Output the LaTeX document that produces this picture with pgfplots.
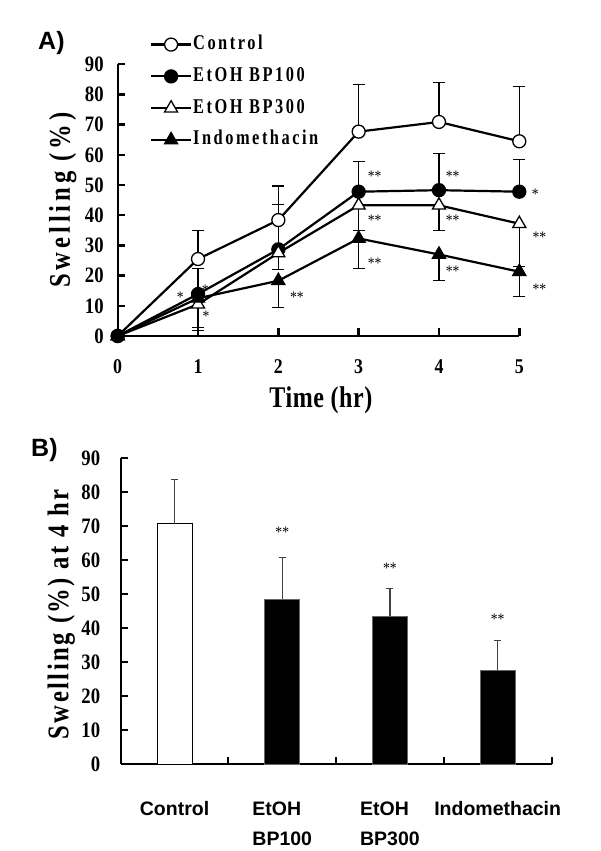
\documentclass[border=0pt]{standalone}
\usepackage{fontspec}
\usepackage{pgfplots}
\pgfplotsset{compat=1.18}
\setmainfont{Liberation Serif}
\newfontfamily\mincho[FakeStretch=0.85]{Liberation Serif}
\newfontfamily\minchoL[FakeStretch=0.78,LetterSpace=12]{Liberation Serif}
\newfontfamily\minchoLab[FakeStretch=0.82,LetterSpace=13]{Liberation Serif}
\newfontfamily\minchoLabB[FakeStretch=0.82,LetterSpace=8.5]{Liberation Serif}
\newfontfamily\minchoLabX[FakeStretch=0.8,LetterSpace=2]{Liberation Serif}
\newfontfamily\arial{Liberation Sans}

\pgfplotstableread{
x y e
0 0 0
1 25.5 9.4
2 38.4 11.3
3 67.7 15.5
4 70.9 13.1
5 64.5 18.1
}\control
\pgfplotstableread{
x y e
0 0 0
1 13.9 8.5
2 28.7 15.0
3 47.8 10.0
4 48.3 12.2
5 47.8 10.7
}\bpone
\pgfplotstableread{
x y e
0 0 0
1 10.5 7.6
2 27.5 5.4
3 43.3 8.4
4 43.3 8.5
5 37.2 14.3
}\bpthree
\pgfplotstableread{
x y e
0 0 0
1 12.5 10.7
2 18.3 8.9
3 32.3 9.9
4 27.0 8.7
5 21.3 8.3
}\indo

\begin{document}
\begin{tikzpicture}
\path[use as bounding box] (0pt,0pt) rectangle (600pt,851pt);
\begin{axis}[
  at={(117.7pt,515pt)}, anchor=south west, scale only axis,
  width=401.6pt, height=271.7pt,
  xmin=0, xmax=5, ymin=0, ymax=90,
  clip=false,
  axis lines=left, axis line style={-, line width=2.4pt},
  xtick={0,1,2,3,4,5}, ytick={0,10,...,90},
  tick align=inside, major tick length=7.5pt,
  tick style={line width=2.4pt, black},
  /pgf/number format/assume math mode=true,
  yticklabel style={font=\mincho\bfseries\fontsize{22}{22}\selectfont, xshift=-10.5pt},
  xticklabel style={font=\mincho\bfseries\fontsize{21}{22}\selectfont, yshift=-20.5pt},
  xlabel={Time (hr)},
  xlabel style={font=\minchoLabX\bfseries\fontsize{30}{32}\selectfont, at={(axis description cs:0.506,-0.265)}, anchor=base},
  ylabel={Swelling (\%)},
  ylabel style={font=\minchoLab\bfseries\fontsize{30}{32}\selectfont, at={(axis description cs:-0.1188,0.50)}, anchor=base},
  legend image code/.code={\draw[mark repeat=2,mark phase=2,#1] plot coordinates {(0pt,0pt) (20pt,0pt) (40pt,0pt)};},
  legend style={at={(axis description cs:0.0804,1.113)}, anchor=north west, draw=none, fill=none,
    inner sep=0pt, outer sep=0pt, row sep=9.8pt,
    font=\minchoL\bfseries\fontsize{21}{24}\selectfont,
    nodes={inner sep=1pt, text height=15pt, text depth=5pt}},
  legend cell align=left,
]
\addplot[black, line width=2.2pt, mark=*, mark size=6.5pt, mark options={solid, fill=white, line width=1.3pt},
  error bars/.cd, y dir=plus, y explicit, error bar style={line width=1.1pt, solid}, error mark options={rotate=90, line width=1.1pt, mark size=6pt}]
  table[x=x, y=y, y error=e] {\control};
\addlegendentry{Control}
\addplot[black, line width=2.2pt, mark=*, mark size=6.5pt, mark options={solid, fill=black, line width=1.3pt},
  error bars/.cd, y dir=plus, y explicit, error bar style={line width=1.1pt, solid}, error mark options={rotate=90, line width=1.1pt, mark size=6pt}]
  table[x=x, y=y, y error=e] {\bpone};
\addlegendentry{EtOH BP100}
\addplot[black, line width=2.2pt, mark=triangle*, mark size=7.5pt, mark options={solid, fill=white, line width=1.3pt},
  error bars/.cd, y dir=minus, y explicit, error bar style={line width=1.1pt, solid}, error mark options={rotate=90, line width=1.1pt, mark size=6pt}]
  table[x=x, y=y, y error=e] {\bpthree};
\addlegendentry{EtOH BP300}
\addplot[black, line width=2.2pt, mark=triangle*, mark size=7.5pt, mark options={solid, fill=black, line width=1.3pt},
  error bars/.cd, y dir=minus, y explicit, error bar style={line width=1.1pt, solid}, error mark options={rotate=90, line width=1.1pt, mark size=6pt}]
  table[x=x, y=y, y error=e] {\indo};
\addlegendentry{Indomethacin}
\begin{scope}[every node/.style={font=\mincho\fontsize{16}{16}\selectfont, inner sep=0pt}]
\node at (axis cs:3.20,52.8) {**};
\node at (axis cs:3.20,38.4) {**};
\node at (axis cs:3.20,24.1) {**};
\node at (axis cs:4.17,52.8) {**};
\node at (axis cs:4.17,38.4) {**};
\node at (axis cs:4.17,21.3) {**};
\node at (axis cs:5.20,47.1) {*};
\node at (axis cs:5.25,32.7) {**};
\node at (axis cs:5.25,15.5) {**};
\node at (axis cs:2.23,12.7) {**};
\node at (axis cs:0.78,12.7) {*};
\node at (axis cs:1.10,6.6) {*};
\node at (axis cs:1.09,15.2) {*};
\end{scope}
\end{axis}

\begin{axis}[
  at={(120.7pt,86.7pt)}, anchor=south west, scale only axis,
  width=430.8pt, height=306pt,
  xmin=0.5, xmax=4.5, ymin=0, ymax=90,
  clip=false,
  axis lines=left, axis line style={-, line width=2pt},
  ytick={0,10,...,90},
  xtick={1.5,2.5,3.5,4.5}, xticklabels={},
  extra x ticks={1,2,3,4},
  extra x tick labels={Control,{EtOH\\BP100},{EtOH\\BP300},Indomethacin},
  extra x tick style={major tick length=0pt,
    xticklabel style={font=\arial\bfseries\fontsize{19.5}{30}\selectfont, align=left, yshift=-34pt}},
  tick align=inside, major tick length=7pt,
  tick style={line width=2pt, black},
  /pgf/number format/assume math mode=true,
  yticklabel style={font=\mincho\bfseries\fontsize{22}{22}\selectfont, xshift=-17pt},
  ylabel={Swelling (\%) at 4 hr},
  ylabel style={font=\minchoLabB\bfseries\fontsize{30}{32}\selectfont, at={(axis description cs:-0.1216,0.49)}, anchor=base},
]
\addplot[ybar, bar width=35pt, bar shift=0pt, fill=white, draw=black, line width=1pt,
  error bars/.cd, y dir=plus, y explicit, error bar style={line width=1.2pt, black!75}, error mark options={rotate=90, line width=1.2pt, black!75, mark size=3.5pt}]
  coordinates {(1,70.8) +- (0,13.0)};
\addplot[ybar, bar width=35pt, bar shift=0pt, fill=black, draw=black!60, line width=1pt,
  error bars/.cd, y dir=plus, y explicit, error bar style={line width=1.2pt, black!75}, error mark options={rotate=90, line width=1.2pt, black!75, mark size=3.5pt}]
  coordinates {(2,48.5) +- (0,12.3) (3,43.6) +- (0,8.2) (4,27.6) +- (0,8.8)};
\begin{scope}[every node/.style={font=\mincho\fontsize{16}{16}\selectfont, inner sep=0pt}]
\node at (axis cs:2,68.1) {**};
\node at (axis cs:3,57.8) {**};
\node at (axis cs:4,42.6) {**};
\end{scope}
\end{axis}

\node[anchor=base west, inner sep=0pt, font=\arial\bfseries\fontsize{25}{25}\selectfont] at (38pt,801pt) {A)};
\node[anchor=base west, inner sep=0pt, font=\arial\bfseries\fontsize{25}{25}\selectfont] at (31pt,394pt) {B)};
\end{tikzpicture}
\end{document}
